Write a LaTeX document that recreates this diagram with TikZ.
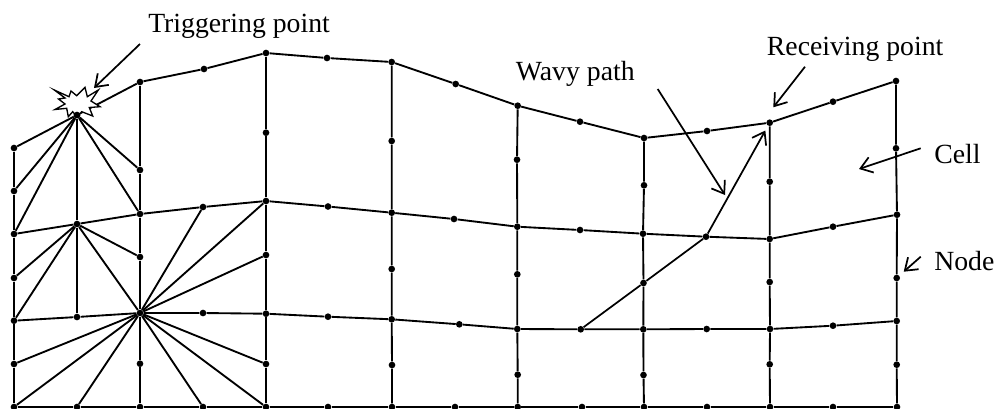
\documentclass[tikz,border=0pt]{standalone}
\usepackage{fontspec}
\setmainfont{Liberation Serif}
\usepackage{xcolor}
\usepackage{tikz}
\usetikzlibrary{arrows.meta}

\begin{document}
\begin{tikzpicture}[
  x=0.75pt, y=-0.75pt,
  pt/.style={draw=none, fill=black, circle, inner sep=0pt, minimum size=5pt},
  lbl/.style={anchor=base west, inner sep=0pt, font=\fontsize{20.8}{24}\selectfont},
  edge/.style={line width=1.4pt, line join=round},
  arr/.style={->, >={Straight Barb[length=8.5pt, width=12pt, line width=1.3pt]}, line width=1.3pt},
  spark/.style={draw, fill=white, line width=1pt, line join=miter, miter limit=10},
]
\useasboundingbox (0,0) rectangle (995,408);

% Top row
\node[pt] (a1) at (14,148) {};
\node[pt] (trig) at (77,115) {};
\node[pt] (a3) at (140,82) {};
\node[pt] (a4) at (204,69) {};
\node[pt] (a5) at (266,53) {};
\node[pt] (a6) at (327,58) {};
\node[pt] (a7) at (391.7,62) {};
\node[pt] (a8) at (455.7,84) {};
\node[pt] (a9) at (517.7,105.7) {};
\node[pt] (a10) at (580,121.7) {};
\node[pt] (a11) at (644,138) {};
\node[pt] (a12) at (707,131) {};
\node[pt] (recv) at (769.7,122.7) {};
\node[pt] (a14) at (833,101.7) {};
\node[pt] (a15) at (896,81) {};

% Second row
\node[pt] (b1) at (14,234) {};
\node[pt] (b2) at (77,224) {};
\node[pt] (b3) at (140,214) {};
\node[pt] (b4) at (203,207) {};
\node[pt] (b5) at (266,201) {};
\node[pt] (b6) at (328,206.5) {};
\node[pt] (b7) at (391.7,212.7) {};
\node[pt] (b8) at (454,219) {};
\node[pt] (b9) at (517.3,226.7) {};
\node[pt] (b10) at (580,230) {};
\node[pt] (b11) at (643,233.7) {};
\node[pt] (b12) at (706,236.7) {};
\node[pt] (b13) at (769.7,239) {};
\node[pt] (b14) at (833,226.7) {};
\node[pt] (b15) at (897,214.7) {};

% Third row
\node[pt] (c1) at (14,320.7) {};
\node[pt] (c2) at (77,317) {};
\node[pt] (c3) at (140,313) {};
\node[pt] (c4) at (203,313) {};
\node[pt] (c5) at (266,313.7) {};
\node[pt] (c6) at (328,316.7) {};
\node[pt] (c7) at (391.7,319.3) {};
\node[pt] (c8) at (459.3,324.3) {};
\node[pt] (c9) at (517.3,329) {};
\node[pt] (c10) at (580.7,329.3) {};
\node[pt] (c11) at (643.3,329.3) {};
\node[pt] (c12) at (706.7,329) {};
\node[pt] (c13) at (770,329) {};
\node[pt] (c14) at (833,325.7) {};
\node[pt] (c15) at (896.7,321) {};

% Bottom row
\node[pt] (d1) at (14,407) {};
\node[pt] (d2) at (77,407) {};
\node[pt] (d3) at (140,407) {};
\node[pt] (d4) at (203,407) {};
\node[pt] (d5) at (266,407) {};
\node[pt] (d6) at (328,407) {};
\node[pt] (d7) at (392,407) {};
\node[pt] (d8) at (455,407) {};
\node[pt] (d9) at (517.7,407) {};
\node[pt] (d10) at (582,407) {};
\node[pt] (d11) at (644,407) {};
\node[pt] (d12) at (707,407) {};
\node[pt] (d13) at (770,407) {};
\node[pt] (d14) at (833,407) {};
\node[pt] (d15) at (897,407) {};

% Mid-side nodes on the columns
\node[pt] (e1) at (14,191) {};
\node[pt] (f1) at (14,278) {};
\node[pt] (g1) at (14,364) {};
\node[pt] (e3) at (140,170) {};
\node[pt] (f3) at (140,257) {};
\node[pt] (g3) at (140,363.7) {};
\node[pt] (e5) at (266,132.7) {};
\node[pt] (f5) at (266,255) {};
\node[pt] (g5) at (266,364) {};
\node[pt] (e7) at (391.7,141) {};
\node[pt] (f7) at (391.7,269) {};
\node[pt] (g7) at (392,365) {};
\node[pt] (e9) at (517,159.7) {};
\node[pt] (f9) at (517.3,274.3) {};
\node[pt] (g9) at (517.7,374.7) {};
\node[pt] (e11) at (644,185.3) {};
\node[pt] (f11) at (643.5,283) {};
\node[pt] (g11) at (643.5,375) {};
\node[pt] (e13) at (769.7,181.7) {};
\node[pt] (f13) at (769.7,282) {};
\node[pt] (g13) at (769.7,364.3) {};
\node[pt] (e15) at (896,148.3) {};
\node[pt] (f15) at (896.7,278) {};
\node[pt] (g15) at (896.7,364.7) {};

% Rows
\draw[edge] (a1) -- (trig) -- (a3) -- (a4) -- (a5) -- (a6) -- (a7) -- (a8) -- (a9) -- (a10) -- (a11) -- (a12) -- (recv) -- (a14) -- (a15);
\draw[edge] (b1) -- (b2) -- (b3) -- (b4) -- (b5) -- (b6) -- (b7) -- (b8) -- (b9) -- (b10) -- (b11) -- (b12) -- (b13) -- (b14) -- (b15);
\draw[edge] (c1) -- (c2) -- (c3) -- (c4) -- (c5) -- (c6) -- (c7) -- (c8) -- (c9) -- (c10) -- (c11) -- (c12) -- (c13) -- (c14) -- (c15);
\draw[edge] (d1) -- (d2) -- (d3) -- (d4) -- (d5) -- (d6) -- (d7) -- (d8) -- (d9) -- (d10) -- (d11) -- (d12) -- (d13) -- (d14) -- (d15);

% Columns
\draw[edge] (a1) -- (e1) -- (b1) -- (f1) -- (c1) -- (g1) -- (d1);
\draw[edge] (trig) -- (b2) -- (c2);
\draw[edge] (a3) -- (e3) -- (b3) -- (f3) -- (c3) -- (g3) -- (d3);
\draw[edge] (a5) -- (e5) -- (b5) -- (f5) -- (c5) -- (g5) -- (d5);
\draw[edge] (a7) -- (e7) -- (b7) -- (f7) -- (c7) -- (g7) -- (d7);
\draw[edge] (a9) -- (e9) -- (b9) -- (f9) -- (c9) -- (g9) -- (d9);
\draw[edge] (a11) -- (e11) -- (b11) -- (f11) -- (c11) -- (g11) -- (d11);
\draw[edge] (recv) -- (e13) -- (b13) -- (f13) -- (c13) -- (g13) -- (d13);
\draw[edge] (a15) -- (e15) -- (b15) -- (f15) -- (c15) -- (g15) -- (d15);

% Fan at the triggering point
\draw[edge] (trig) -- (e1);
\draw[edge] (trig) -- (b1);
\draw[edge] (trig) -- (b3);
\draw[edge] (trig) -- (e3);

% Fan at the second row
\draw[edge] (b2) -- (f1);
\draw[edge] (b2) -- (c1);
\draw[edge] (b2) -- (c3);
\draw[edge] (b2) -- (f3);

% Fan at the third row
\draw[edge] (c3) -- (b4);
\draw[edge] (c3) -- (b5);
\draw[edge] (c3) -- (f5);
\draw[edge] (c3) -- (g5);
\draw[edge] (c3) -- (d5);
\draw[edge] (c3) -- (d4);
\draw[edge] (c3) -- (d2);
\draw[edge] (c3) -- (d1);
\draw[edge] (c3) -- (g1);

% Spark
\draw[spark] (54.3,90) -- (69,96.7) -- (71,91) -- (76.7,95.7) -- (85,87.3) -- (87.3,96.7) -- (98.3,90) -- (91,101) -- (100,106.7) -- (89.3,107.5) -- (92.7,116) -- (81.7,111.7) -- (77,117) -- (72.7,111.7) -- (68.3,116.7) -- (66.7,108.3) -- (55,109.5) -- (65,104) -- (58.5,99) -- (65,98) -- cycle;
\node[pt] at (trig) {};

% Wavy path
\draw[arr, shorten >=4pt, line join=round] (c10) -- (f11) -- (b12) -- (recv);

% Labels
\node[lbl] (ltrig) at (148,32) {Triggering point};
\node[lbl] (lwavy) at (515.7,80.7) {Wavy path};
\node[lbl] (lrecv) at (766.7,55) {Receiving point};
\node[lbl] (lcell) at (934,163.5) {Cell};
\node[lbl] (lnode) at (934,270.7) {Node};

% Pointers
\coordinate (ptrig) at (140,44);
\coordinate (qtrig) at (94,88);
\coordinate (pwavy) at (657.7,89);
\coordinate (qwavy) at (725,195);
\coordinate (precv) at (805,66.7);
\coordinate (qrecv) at (773.3,107.3);
\coordinate (pcell) at (920.7,148.3);
\coordinate (qcell) at (859,169);
\coordinate (pnode) at (920.7,256.7);
\coordinate (qnode) at (903.7,271.7);
\draw[arr] (ptrig) -- (qtrig);
\draw[arr] (pwavy) -- (qwavy);
\draw[arr] (precv) -- (qrecv);
\draw[arr] (pcell) -- (qcell);
\draw[arr] (pnode) -- (qnode);
\end{tikzpicture}
\end{document}
